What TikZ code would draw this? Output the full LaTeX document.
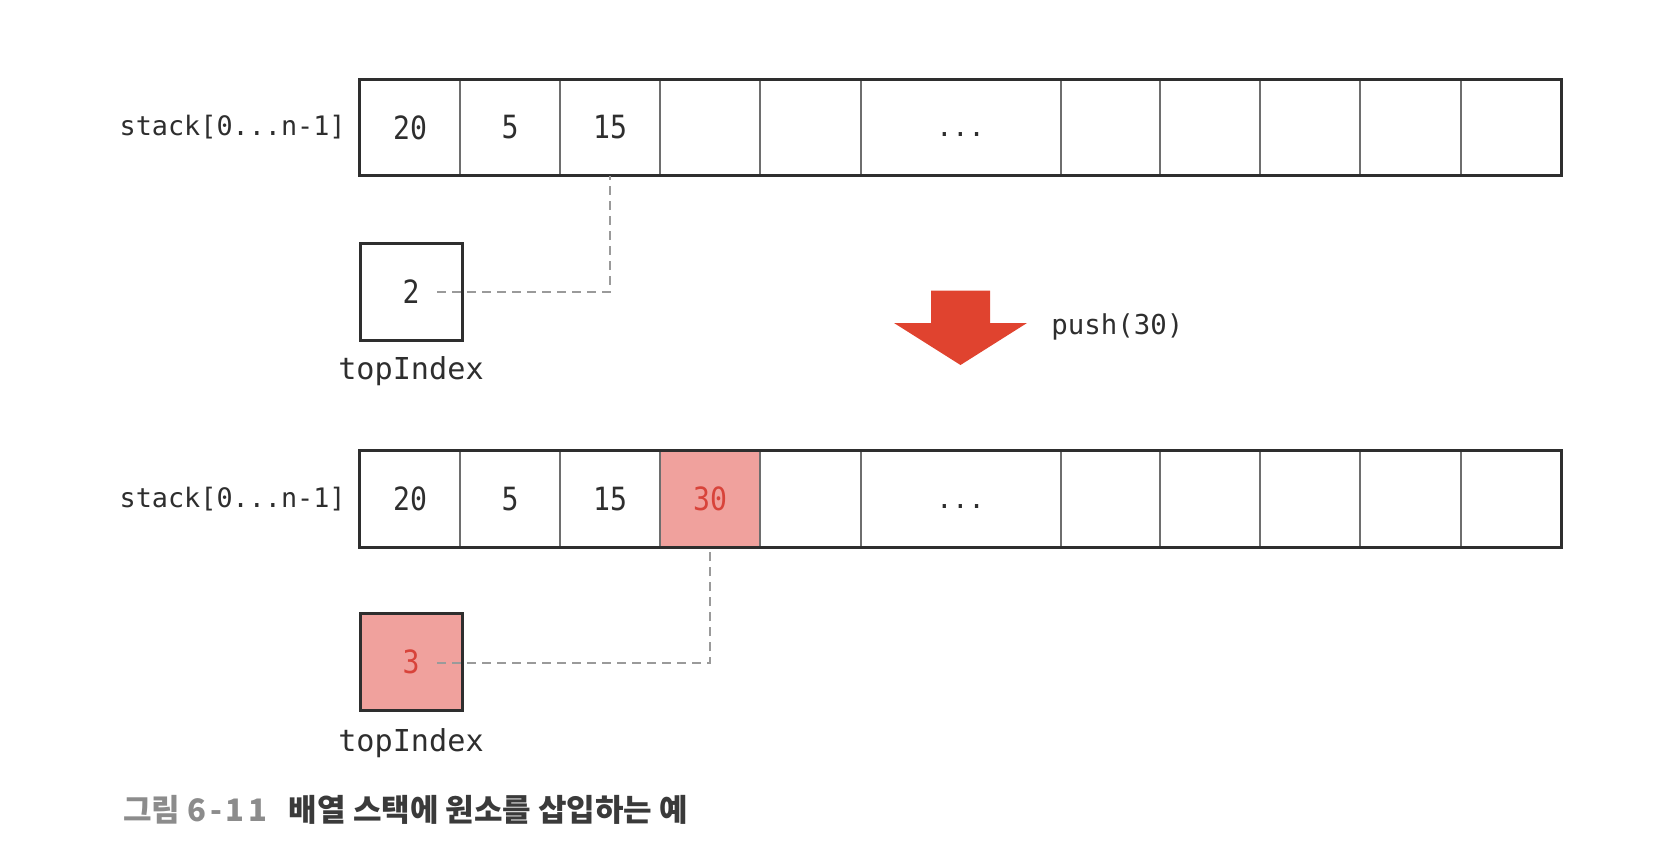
\documentclass[tikz,border=0pt]{standalone}
\usepackage{fontspec}
\newfontfamily\monof{DejaVu Sans Mono}
\newfontfamily\monon{DejaVu Sans Mono}[FakeStretch=0.88]
\newfontfamily\krf{Noto Sans CJK KR}
\definecolor{ink}{HTML}{2E2E2E}
\definecolor{gridc}{HTML}{6E6E6E}
\definecolor{pinkf}{HTML}{F0A19D}
\definecolor{redt}{HTML}{D8433A}
\definecolor{arrowred}{HTML}{E0432F}
\definecolor{dashg}{HTML}{9A9A9A}
\definecolor{capg}{HTML}{8C8C8C}
\definecolor{capd}{HTML}{3A3A3A}
\begin{document}
\begin{tikzpicture}[x=0.5pt,y=-0.5pt,
  cellbox/.style={draw=gridc, line width=0.9pt, minimum height=47.5pt, inner sep=0pt,
    text=ink, font=\monon\fontsize{16}{18}\selectfont},
  newcell/.style={fill=pinkf, text=redt},
  outerline/.style={draw=ink, line width=1.5pt},
  idxbox/.style={draw=ink, line width=1.5pt, minimum width=51pt, minimum height=48.5pt,
    inner sep=0pt, text=ink, font=\monon\fontsize{16}{18}\selectfont},
  lbl/.style={inner sep=0pt, text=ink, font=\monof\fontsize{13.4}{15}\selectfont},
  pushlbl/.style={inner sep=0pt, text=ink, font=\monof\fontsize{13.7}{15}\selectfont},
  idxlbl/.style={inner sep=0pt, text=ink, font=\monof\fontsize{15.1}{17}\selectfont},
  dashline/.style={draw=dashg, line width=1pt, dash pattern=on 4.5pt off 3pt},
  pusharrow/.style={fill=arrowred, draw=none}
]
\useasboundingbox (0,0) rectangle (1653,851);

% top array
\foreach \i/\xa/\xb/\t in {1/360/460/20,2/460/560/5,3/560/660/15,4/660/760/,5/760/861/,
    6/861/1061/,7/1061/1160/,8/1160/1260/,9/1260/1360/,10/1360/1461/,11/1461/1561/}{
  \pgfmathsetmacro\w{(\xb-\xa)*0.5}
  \node[cellbox, minimum width=\w pt] (t\i) at ({(\xa+\xb)/2},127.5) {\t};
}
\draw[outerline] (t1.north west) rectangle (t11.south east);
\node[lbl, anchor=base] (tdots) at (960.5,136) {...};
\node[lbl, anchor=east] (tlabel) at (346,127.5) {stack[0...n-1]};

% bottom array
\foreach \i/\xa/\xb/\t in {1/360/460/20,2/460/560/5,3/560/660/15,5/760/861/,
    6/861/1061/,7/1061/1160/,8/1160/1260/,9/1260/1360/,10/1360/1461/,11/1461/1561/}{
  \pgfmathsetmacro\w{(\xb-\xa)*0.5}
  \node[cellbox, minimum width=\w pt] (b\i) at ({(\xa+\xb)/2},499) {\t};
}
\node[cellbox, newcell, minimum width=50pt] (b4) at (710,499) {30};
\draw[outerline] (b1.north west) rectangle (b11.south east);
\node[lbl, anchor=base] (bdots) at (960.5,508) {...};
\node[lbl, anchor=east] (blabel) at (346,499) {stack[0...n-1]};

% top index boxes
\node[idxbox] (idx1) at (411,291.5) {2};
\node[idxlbl] (ilbl1) at (411,371) {topIndex};
\coordinate (d1) at (437,291.5);
\draw[dashline] (d1) -| (t3.south);

\node[idxbox, fill=pinkf, text=redt] (idx2) at (411,662) {3};
\node[idxlbl] (ilbl2) at (411,743) {topIndex};
\coordinate (d2) at (437,663);
\draw[dashline] (d2) -| (b4.south);

% push arrow
\fill[pusharrow] (931,290.5) -- (990,290.5) -- (990,323) -- (1027,323) -- (960.5,365)
  -- (894,323) -- (931,323) -- cycle;
\node[pushlbl, anchor=west] (push) at (1051,327) {push(30)};

% caption
\node[inner sep=0pt, anchor=west, font=\krf\bfseries\fontsize{15.5}{17}\selectfont] (cap) at (123,810)
  {\textcolor{capg}{그림 {\addfontfeature{LetterSpace=12}6-11}}\hspace{0.7em}\textcolor{capd}{배열 스택에 원소를 삽입하는 예}};
\end{tikzpicture}
\end{document}
